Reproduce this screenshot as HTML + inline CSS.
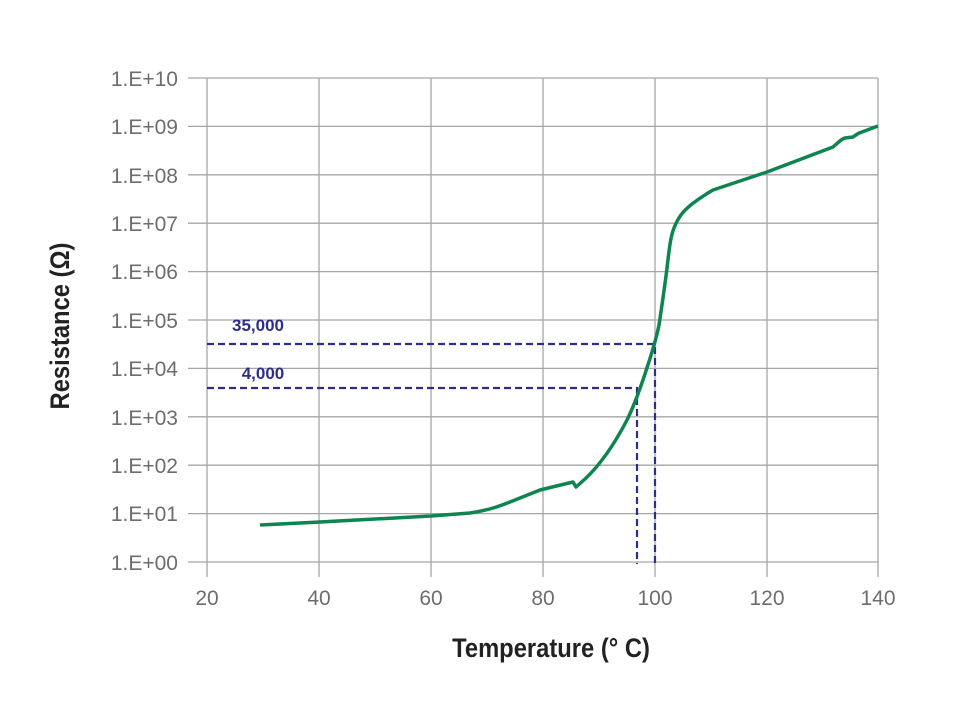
<!DOCTYPE html><html><head><style>body{margin:0;background:#fff}svg{display:block}</style></head><body>
<svg width="960" height="720" xmlns="http://www.w3.org/2000/svg" font-family="Liberation Sans, sans-serif">
<g stroke="#a6a6a6" stroke-width="1.3">
<line x1="188" y1="78" x2="878" y2="78"/><line x1="188" y1="126.4" x2="878" y2="126.4"/><line x1="188" y1="174.8" x2="878" y2="174.8"/><line x1="188" y1="223.2" x2="878" y2="223.2"/><line x1="188" y1="271.6" x2="878" y2="271.6"/><line x1="188" y1="320" x2="878" y2="320"/><line x1="188" y1="368.4" x2="878" y2="368.4"/><line x1="188" y1="416.8" x2="878" y2="416.8"/><line x1="188" y1="465.2" x2="878" y2="465.2"/><line x1="188" y1="513.6" x2="878" y2="513.6"/><line x1="188" y1="562" x2="878" y2="562"/>
<line x1="207" y1="78" x2="207" y2="577"/><line x1="319" y1="78" x2="319" y2="577"/><line x1="431" y1="78" x2="431" y2="577"/><line x1="543" y1="78" x2="543" y2="577"/><line x1="655" y1="78" x2="655" y2="577"/><line x1="767" y1="78" x2="767" y2="577"/><line x1="878" y1="78" x2="878" y2="577"/>
</g>
<g fill="#6d6d6d" font-size="21" text-anchor="end">
<text x="178" y="86">1.E+10</text><text x="178" y="134">1.E+09</text><text x="178" y="183">1.E+08</text><text x="178" y="231">1.E+07</text><text x="178" y="279">1.E+06</text><text x="178" y="328">1.E+05</text><text x="178" y="376">1.E+04</text><text x="178" y="425">1.E+03</text><text x="178" y="473">1.E+02</text><text x="178" y="521">1.E+01</text><text x="178" y="570">1.E+00</text>
</g>
<g fill="#6d6d6d" font-size="21" text-anchor="middle">
<text x="207" y="605">20</text><text x="319" y="605">40</text><text x="431" y="605">60</text><text x="543" y="605">80</text><text x="655" y="605">100</text><text x="767" y="605">120</text><text x="878" y="605">140</text>
</g>
<text transform="translate(551 657) scale(0.88 1)" font-size="27" font-weight="bold" text-anchor="middle" fill="#222">Temperature (° C)</text>
<text transform="translate(69 326) rotate(-90) scale(0.88 1)" font-size="27" font-weight="bold" text-anchor="middle" fill="#222">Resistance (Ω)</text>
<g stroke="#2e2e8a" stroke-width="2.2" stroke-dasharray="7,4" fill="none">
<polyline points="207,344 655,344 655,564"/><polyline points="207,388 637,388 637,564"/>
</g>
<g fill="#2e2e8a" font-size="17" font-weight="bold" text-anchor="middle">
<text x="258" y="331">35,000</text><text x="263" y="379">4,000</text>
</g>
<path d="M260,525 L320,522 L431,516 L470,513 C490,510 500,506 515,500 L540,490 L573,482 L576,487 L585,479 C600,465 615,443 627,420 C632,410 637,398 645,374 C650,358 655,345 659,325 C662,305 665,285 667,268 C669,252 670,238 674,228 C678,218 682,212 692,204 C700,198 706,194 713,190 L767,172 L833,147 C838,143 841,139 845,138 L853,137 C856,135 858,133 862,132 L878,126" fill="none" stroke="#0e8450" stroke-width="3.5" stroke-linejoin="round"/>
</svg>
</body></html>
